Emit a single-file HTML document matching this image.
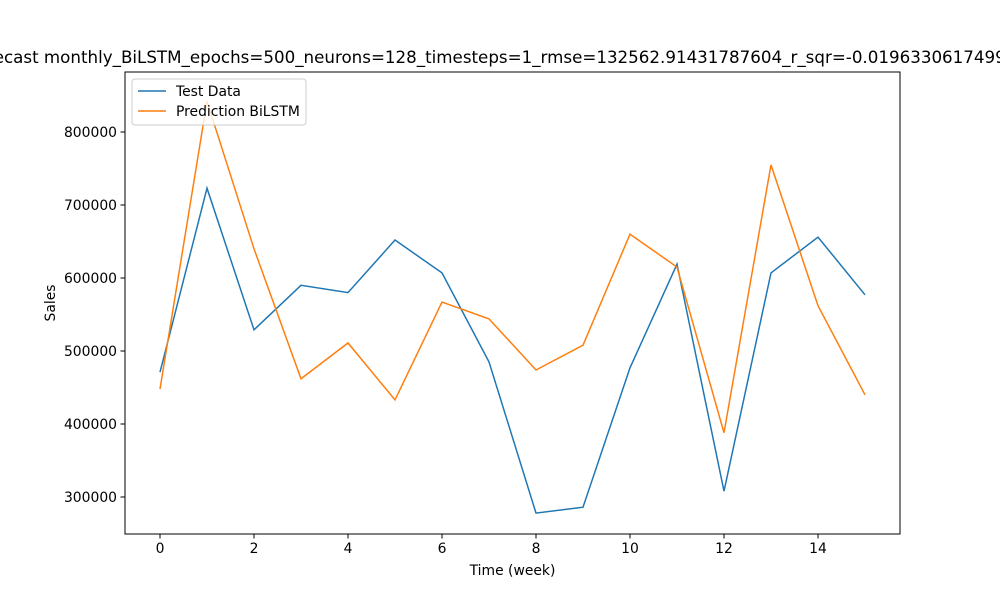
<!DOCTYPE html>
<html><head><meta charset="utf-8"><style>body{margin:0;background:#fff}svg{display:block;font-family:"DejaVu Sans","Liberation Sans",sans-serif}</style></head>
<body>
<svg id="chart" width="1000" height="600">
<rect width="1000" height="600" fill="#fff"/>
<text x="497.5" y="63" text-anchor="middle" font-size="16.7">Forecast monthly_BiLSTM_epochs=500_neurons=128_timesteps=1_rmse=132562.91431787604_r_sqr=-0.019633061749951</text>
<g id="plot"></g>
<rect x="125" y="72" width="775" height="462" fill="none" stroke="#000" stroke-width="1"/>
<text x="512.5" y="575" text-anchor="middle" font-size="13.9">Time (week)</text>
<text transform="translate(55,303) rotate(-90)" text-anchor="middle" font-size="13.9">Sales</text>
<g>
<rect x="132" y="79" width="174" height="46" rx="3" fill="#fff" fill-opacity="0.8" stroke="#ccc"/>
<line x1="138" y1="91" x2="166" y2="91" stroke="#1f77b4" stroke-width="1.5"/>
<text x="176" y="96" font-size="13.9">Test Data</text>
<line x1="138" y1="111" x2="166" y2="111" stroke="#ff7f0e" stroke-width="1.5"/>
<text x="176" y="116" font-size="13.9">Prediction BiLSTM</text>
</g>
</svg>
<script>
const weeks=[0,1,2,3,4,5,6,7,8,9,10,11,12,13,14,15];
const testData=[471000,723000,529000,590000,580000,652000,607000,485000,278000,286000,477000,619000,308000,607000,656000,577000];
const predData=[448000,842000,640000,462000,511000,433000,567000,544000,474000,508000,660000,615000,388000,755000,562000,440000];
const xTicks=[0,2,4,6,8,10,12,14];
const yTicks=[300000,400000,500000,600000,700000,800000];
const X=v=>160+(v-0)*(865-160)/15;
const Y=v=>497-(v-300000)*365/500000;
const ns="http://www.w3.org/2000/svg";
const g=document.getElementById('plot');
function mk(t,a){const e=document.createElementNS(ns,t);for(const k in a)e.setAttribute(k,a[k]);g.appendChild(e);return e;}
xTicks.forEach(t=>{
 const l=mk('line',{x1:X(t),x2:X(t),y1:534,y2:538.5,stroke:'#000'});
 
 
 const tx=mk('text',{x:X(t),y:553,'text-anchor':'middle','font-size':13.9});tx.textContent=t;
 
 
});
yTicks.forEach(t=>{
 const l=mk('line',{x1:120.5,x2:125,y1:Y(t),y2:Y(t),stroke:'#000'});
 
 
 const tx=mk('text',{x:117,y:Y(t)+5,'text-anchor':'end','font-size':13.9});tx.textContent=t;
 
 
});
const p1=mk('polyline',{points:weeks.map((w,i)=>X(w)+','+Y(testData[i])).join(' '),fill:'none',stroke:'#1f77b4','stroke-width':1.5});


const p2=mk('polyline',{points:weeks.map((w,i)=>X(w)+','+Y(predData[i])).join(' '),fill:'none',stroke:'#ff7f0e','stroke-width':1.5});


</script>
</body></html>
